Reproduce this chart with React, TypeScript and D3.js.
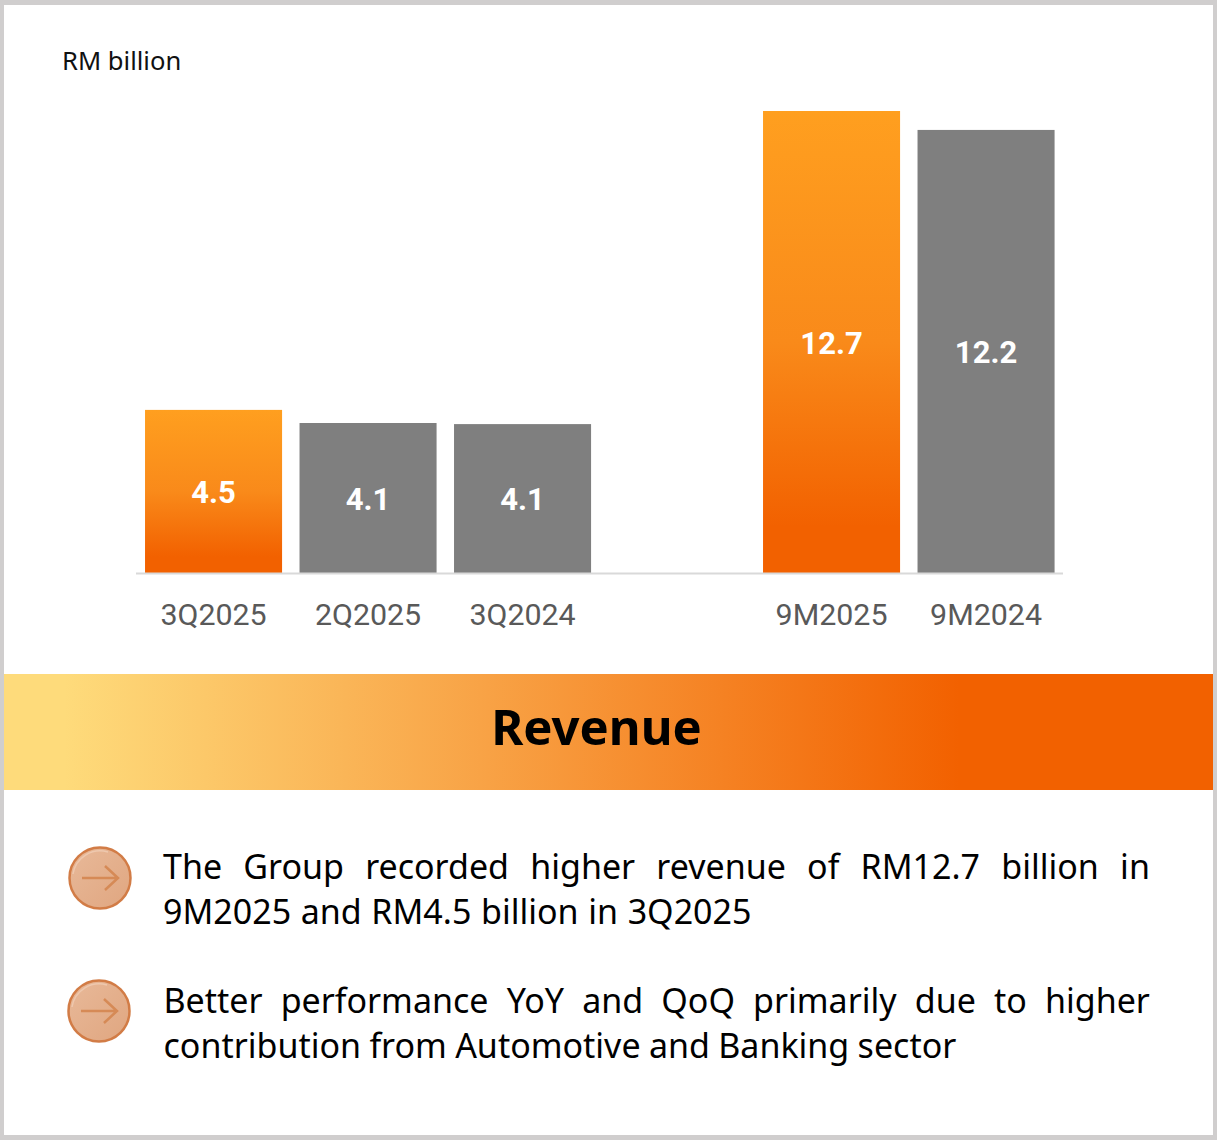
import React from "react";
import * as d3 from "d3";

const categories = ["3Q2025", "2Q2025", "3Q2024", "", "9M2025", "9M2024"];
const values = [4.48, 4.12, 4.09, null, 12.69, 12.17];
const valueLabels = ["4.5", "4.1", "4.1", "", "12.7", "12.2"];
const highlighted = ["3Q2025", "9M2025"];
const unitLabel = "RM billion";
const bannerTitle = "Revenue";
const bullets = [
  { lines: ["The Group recorded higher revenue of RM12.7 billion in", "9M2025 and RM4.5 billion in 3Q2025"], x: 163, y: 878.5, spacing: [12.4, 0.8], icon: [100, 878] },
  { lines: ["Better performance YoY and QoQ primarily due to higher", "contribution from Automotive and Banking sector"], x: 163.5, y: 1012.5, spacing: [9.3, -0.5], icon: [99, 1011] },
];

const W = 1217, H = 1140;
const baseline = 573;

export default function App() {
  const x = d3.scaleBand<string>().domain(categories).range([136.3, 1063.3]).paddingInner(0.113).paddingOuter(0.0565);
  const y = d3.scaleLinear().domain([0, 12.69]).range([baseline, 111]);
  const body = '"Noto Sans", "Open Sans", sans-serif';
  return (
    <svg width={W} height={H} viewBox={`0 0 ${W} ${H}`} style={{ position: "absolute", left: 0, top: 0, display: "block" }}>
      <defs>
        {categories.map((c, i) => values[i] != null && highlighted.includes(c) ? (
          <linearGradient key={c} id={`bar-${i}`} x1="0" y1="0" x2="0" y2="1">
            <stop offset="0" stopColor="#ff9f1f" />
            <stop offset="0.5" stopColor="#f98a1a" />
            <stop offset="0.9" stopColor="#f26100" />
            <stop offset="1" stopColor="#f26100" />
          </linearGradient>
        ) : null)}
        <linearGradient id="banner" x1="0" y1="0" x2="1" y2="0">
          <stop offset="0" stopColor="#fedb7b" />
          <stop offset="0.05" stopColor="#fedb7b" />
          <stop offset="0.4" stopColor="#f8a245" />
          <stop offset="0.79" stopColor="#f26100" />
          <stop offset="1" stopColor="#f26100" />
        </linearGradient>
        <linearGradient id="icon" x1="0" y1="0" x2="1" y2="1">
          <stop offset="0" stopColor="#e8b999" />
          <stop offset="1" stopColor="#e0a680" />
        </linearGradient>
      </defs>
      <rect x={0} y={0} width={W} height={H} fill="#d0cece" />
      <rect x={4} y={5} width={1209} height={1130} fill="#ffffff" />

      <text x={62} y={70} fontFamily={body} fontSize={25.6} fill="#111">{unitLabel}</text>

      {categories.map((c, i) => {
        const v = values[i];
        if (v == null) return null;
        const bx = x(c)!;
        const bw = x.bandwidth();
        const top = y(v);
        return (
          <g key={c}>
            <rect x={bx} y={top} width={bw} height={baseline - top} fill={highlighted.includes(c) ? `url(#bar-${i})` : "#7f7f7f"} />
            <text x={bx + bw / 2} y={(top + baseline) / 2 + 11.5} textAnchor="middle" fontFamily="Roboto, sans-serif" fontWeight={700} fontSize={31} fill="#fff">{valueLabels[i]}</text>
            <text x={bx + bw / 2} y={624.5} textAnchor="middle" fontFamily="Roboto, sans-serif" fontSize={30.4} fill="#595959">{c}</text>
          </g>
        );
      })}
      <line x1={136} x2={1063} y1={baseline + 0.5} y2={baseline + 0.5} stroke="#d9d9d9" strokeWidth={2} />

      <rect x={4} y={674} width={1209} height={116} fill="url(#banner)" />
      <text x={596.5} y={745} textAnchor="middle" fontFamily={body} fontWeight={700} fontSize={49} fill="#000">{bannerTitle}</text>

      {bullets.map((b, i) => {
        const [cx, cy] = b.icon;
        return (
          <g key={i}>
            <circle cx={cx} cy={cy} r={30.5} fill="url(#icon)" stroke="#d27c46" strokeWidth={2.5} />
            <path d={`M${cx - 27} ${cy - 4}A27.5 27.5 0 0 1 ${cx + 8} ${cy - 26}`} fill="none" stroke="#eec8ae" strokeWidth={1.5} />
            <path d={`M${cx - 18} ${cy}H${cx + 18}M${cx + 5} ${cy - 12}L${cx + 18} ${cy}L${cx + 5} ${cy + 12}`} fill="none" stroke="#d68a56" strokeWidth={2.5} />
            {b.lines.map((l, j) => (
              <text key={j} x={b.x} y={b.y + j * 45} fontFamily={body} fontSize={34} fill="#000" wordSpacing={b.spacing[j]}>{l}</text>
            ))}
          </g>
        );
      })}
    </svg>
  );
}
